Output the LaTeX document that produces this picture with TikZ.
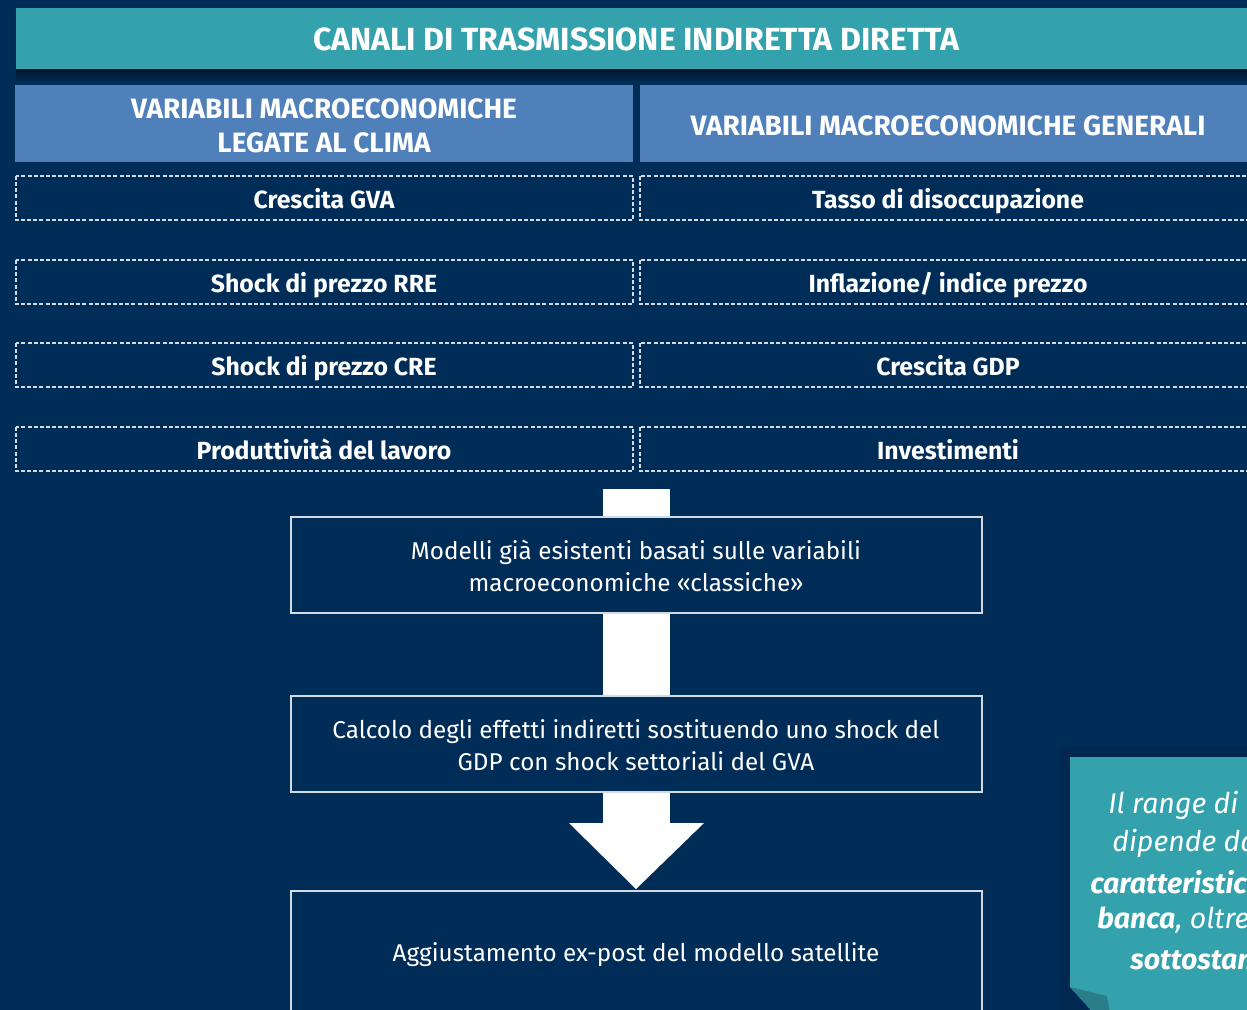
\documentclass[tikz,border=0pt]{standalone}
\usepackage{fontspec}
\setmainfont{Fira Sans}
\usetikzlibrary{shadings}
\definecolor{navy}{HTML}{002D58}
\definecolor{teal}{HTML}{33A2AD}
\definecolor{hdr}{HTML}{4F80BA}
\definecolor{flap}{HTML}{2A7E8A}
\definecolor{lineg}{HTML}{D3DAE2}
\tikzset{
  titlebar/.style={fill=teal, draw=none},
  hdrbox/.style={fill=hdr, draw=none},
  rowbox/.style={draw=lineg, line width=1pt, dash pattern=on 3pt off 1.6pt, fill=navy},
  procbox/.style={draw=lineg, line width=1.1pt, fill=navy},
  titletext/.style={text=white, font=\fontsize{24}{28}\selectfont\bfseries, anchor=center},
  hdrtext/.style={text=white, font=\fontsize{21}{25.5}\selectfont\bfseries, align=center, anchor=center},
  rowtext/.style={text=white, font=\fontsize{18.6}{22}\selectfont\bfseries, anchor=base},
  proctext/.style={text=white, font=\fontsize{18.2}{24}\selectfont, align=center, anchor=center},
  calltext/.style={text=white, font=\fontsize{21.4}{28.5}\selectfont\itshape, anchor=west, inner sep=0pt},
}
\begin{document}
\begin{tikzpicture}[x=0.75pt,y=-0.75pt]
\useasboundingbox (0,0) rectangle (1247,1010);
\clip (0,0) rectangle (1247,1010);
\fill[navy] (0,0) rectangle (1247,1010);
% title bar
\shade[top color=black!55!navy, bottom color=navy] (16,69) rectangle (1260,82);
\fill[titlebar] (16,8) rectangle (1260,69);
\node[titletext] (title) at (636,39.5) {CANALI DI TRASMISSIONE INDIRETTA DIRETTA};
% headers
\fill[hdrbox] (15,85) rectangle (633,162);
\fill[hdrbox] (640,85) rectangle (1260,162);
\node[hdrtext] (hl) at (324,126) {VARIABILI MACROECONOMICHE\\LEGATE AL CLIMA};
\node[hdrtext] (hr) at (948,126) {VARIABILI MACROECONOMICHE GENERALI};
% rows
\foreach \i/\ya/\yb/\lt/\rt in {1/176/220/{Crescita GVA}/{Tasso di disoccupazione},
                              2/260/304/{Shock di prezzo RRE}/{Inflazione/ indice prezzo},
                              3/343/387/{Shock di prezzo CRE}/{Crescita GDP},
                              4/427/471/{Produttività del lavoro}/{Investimenti}}{
  \draw[rowbox] (16,\ya) rectangle (633,\yb);
  \draw[rowbox] (640,\ya) rectangle (1258,\yb);
  \node[rowtext] (l\i) at (324,{(\ya+\yb)/2+10}) {\lt};
  \node[rowtext] (r\i) at (948,{(\ya+\yb)/2+10}) {\rt};
}
% arrow shaft and head
\coordinate (s0) at (636,489);
\coordinate (s1) at (636,823);
\fill[white] (603,489) rectangle (670,823);
\fill[white] (569,823) -- (704,823) -- (636,889) -- cycle;
% process boxes
\draw[procbox] (291,517) rectangle (982,613);
\node[proctext] (p1) at (636,566) {Modelli già esistenti basati sulle variabili\\macroeconomiche «classiche»};
\draw[procbox] (291,696) rectangle (982,792);
\node[proctext] (p2) at (636,745) {Calcolo degli effetti indiretti sostituendo uno shock del\\GDP con shock settoriali del GVA};
\draw[procbox] (291,891) rectangle (982,1040);
\node[proctext] (p3) at (636,955) {Aggiustamento ex-post del modello satellite};
% callout
\fill[black!15!navy, opacity=0.6] (1060,747) rectangle (1260,1020);
\fill[teal] (1070,757) -- (1260,757) -- (1260,1020) -- (1100,1020) -- (1070,987) -- cycle;
\fill[flap] (1070,987) -- (1107,996) -- (1111,1020) -- (1100,1020) -- cycle;
\node[calltext] (c1) at (1108,805) {Il range di variazione};
\node[calltext] (c2) at (1112,843) {dipende dalle};
\node[calltext] (c3) at (1090,882) {\bfseries caratteristiche della};
\node[calltext] (c4) at (1097,920) {{\bfseries banca}, oltre che};
\node[calltext] (c5) at (1130,958) {\bfseries sottostanti};
\end{tikzpicture}
\end{document}
